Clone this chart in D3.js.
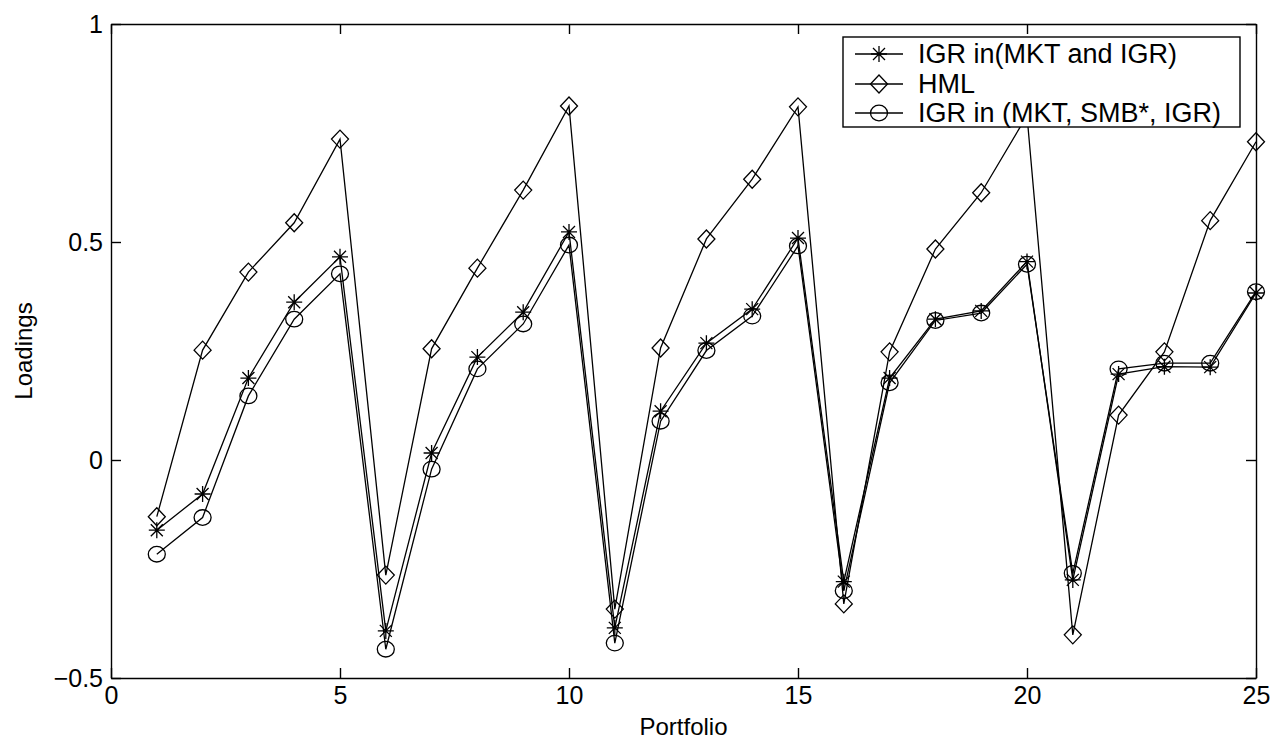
<!DOCTYPE html>
<html>
<head>
<meta charset="utf-8">
<title>Loadings by portfolio</title>
<script src="https://cdn.jsdelivr.net/npm/d3@7"></script>
<style>
  body { margin: 0; background: #fff; }
  svg text { font-family: "Liberation Sans", Arial, Helvetica, sans-serif; fill: #000; }
  .axis path, .axis line { stroke: #000; stroke-width: 1.4; }
  .series { fill: none; stroke: #000; stroke-width: 1.3; }
</style>
</head>
<body>
<div id="chart"></div>
<script>
// portfolios 1..25
var portfolios = d3.range(1, 26);

// IGR in(MKT and IGR)  -- star markers
var igrMkt = [-0.161, -0.078, 0.188, 0.362, 0.466,
              -0.392, 0.016, 0.236, 0.339, 0.523,
              -0.385, 0.112, 0.268, 0.346, 0.509,
              -0.279, 0.188, 0.323, 0.342, 0.455,
              -0.275, 0.197, 0.214, 0.213, 0.383];

// HML -- diamond markers
var hml = [-0.130, 0.252, 0.431, 0.544, 0.736,
           -0.264, 0.255, 0.440, 0.619, 0.812,
           -0.342, 0.257, 0.507, 0.644, 0.810,
           -0.330, 0.248, 0.484, 0.613, 0.790,
           -0.401, 0.103, 0.248, 0.549, 0.730];

// IGR in (MKT, SMB*, IGR) -- circle markers
var igrSmb = [-0.216, -0.132, 0.147, 0.323, 0.427,
              -0.434, -0.021, 0.209, 0.312, 0.493,
              -0.420, 0.089, 0.251, 0.330, 0.491,
              -0.300, 0.177, 0.320, 0.337, 0.449,
              -0.260, 0.209, 0.222, 0.222, 0.386];

var xTicks = [0, 5, 10, 15, 20, 25];
var yTicks = [-0.5, 0, 0.5, 1];
var seriesNames = ["IGR in(MKT and IGR)", "HML", "IGR in (MKT, SMB*, IGR)"];
var markerTypes = ["star", "diamond", "circle"];

var width = 1273, height = 740;
var margin = {top: 24, right: 17, bottom: 62, left: 111};

var svg = d3.select("#chart").append("svg")
  .attr("width", width).attr("height", height);

var x = d3.scaleLinear().domain([0, 25]).range([margin.left, width - margin.right]);
var y = d3.scaleLinear().domain([-0.5, 1]).range([height - margin.bottom, margin.top]);

// axes, ticks inward on all four sides (matlab box on)
var fmt = function(d){ return d < 0 ? "\u2212" + Math.abs(d) : String(d); };

svg.append("g").attr("class", "axis")
  .attr("transform", "translate(0," + y(-0.5) + ")")
  .call(d3.axisBottom(x).tickValues(xTicks).tickSizeInner(-10).tickSizeOuter(0).tickPadding(8).tickFormat(fmt))
  .call(function(g){ g.selectAll("text").attr("font-size", 25); });

svg.append("g").attr("class", "axis")
  .attr("transform", "translate(0," + y(1) + ")")
  .call(d3.axisTop(x).tickValues(xTicks).tickSizeInner(-10).tickSizeOuter(0).tickFormat(""));

svg.append("g").attr("class", "axis")
  .attr("transform", "translate(" + x(0) + ",0)")
  .call(d3.axisLeft(y).tickValues(yTicks).tickSizeInner(-10).tickSizeOuter(0).tickPadding(8).tickFormat(fmt))
  .call(function(g){ g.selectAll("text").attr("font-size", 25); });

svg.append("g").attr("class", "axis")
  .attr("transform", "translate(" + x(25) + ",0)")
  .call(d3.axisRight(y).tickValues(yTicks).tickSizeInner(-10).tickSizeOuter(0).tickFormat(""));

svg.selectAll(".axis .domain").attr("stroke-width", 1.6);

// axis titles
svg.append("text")
  .attr("x", (x(0) + x(25)) / 2).attr("y", 735)
  .attr("text-anchor", "middle").attr("font-size", 24)
  .text("Portfolio");

svg.append("text")
  .attr("transform", "translate(32," + ((y(1) + y(-0.5)) / 2) + ") rotate(-90)")
  .attr("text-anchor", "middle").attr("font-size", 24)
  .text("Loadings");

// marker drawing
function drawMarker(g, type, cx, cy) {
  if (type === "star") {
    var s = 8, d = 6;
    var p = "M" + (cx - s) + "," + cy + "H" + (cx + s) +
            "M" + cx + "," + (cy - s) + "V" + (cy + s) +
            "M" + (cx - d) + "," + (cy - d) + "L" + (cx + d) + "," + (cy + d) +
            "M" + (cx - d) + "," + (cy + d) + "L" + (cx + d) + "," + (cy - d);
    g.append("path").attr("d", p).attr("stroke", "#000").attr("stroke-width", 1.3).attr("fill", "none");
  } else if (type === "diamond") {
    var w = 8.5, h = 9;
    g.append("path")
      .attr("d", "M" + cx + "," + (cy - h) + "L" + (cx + w) + "," + cy + "L" + cx + "," + (cy + h) + "L" + (cx - w) + "," + cy + "Z")
      .attr("stroke", "#000").attr("stroke-width", 1.3).attr("fill", "none");
  } else {
    g.append("ellipse").attr("cx", cx).attr("cy", cy).attr("rx", 8.5).attr("ry", 7.8)
      .attr("stroke", "#000").attr("stroke-width", 1.3).attr("fill", "none");
  }
}

var line = d3.line().x(function(d){ return x(d[0]); }).y(function(d){ return y(d[1]); });

[igrMkt, hml, igrSmb].forEach(function(vals, i){
  var pts = portfolios.map(function(p, j){ return [p, vals[j]]; });
  var g = svg.append("g");
  g.append("path").attr("class", "series").attr("d", line(pts));
  pts.forEach(function(pt){ drawMarker(g, markerTypes[i], x(pt[0]), y(pt[1])); });
});

// legend
var lg = svg.append("g");
lg.append("rect").attr("x", 843).attr("y", 37).attr("width", 397).attr("height", 90)
  .attr("fill", "#fff").attr("stroke", "#000").attr("stroke-width", 1.4);
var rowY = [54, 84, 113];
seriesNames.forEach(function(name, i){
  lg.append("line").attr("x1", 855).attr("x2", 903).attr("y1", rowY[i]).attr("y2", rowY[i])
    .attr("stroke", "#000").attr("stroke-width", 1.3);
  drawMarker(lg, markerTypes[i], 879, rowY[i]);
  lg.append("text").attr("x", 918).attr("y", rowY[i]).attr("dy", "0.35em")
    .attr("font-size", 27).text(name);
});
</script>
</body>
</html>
